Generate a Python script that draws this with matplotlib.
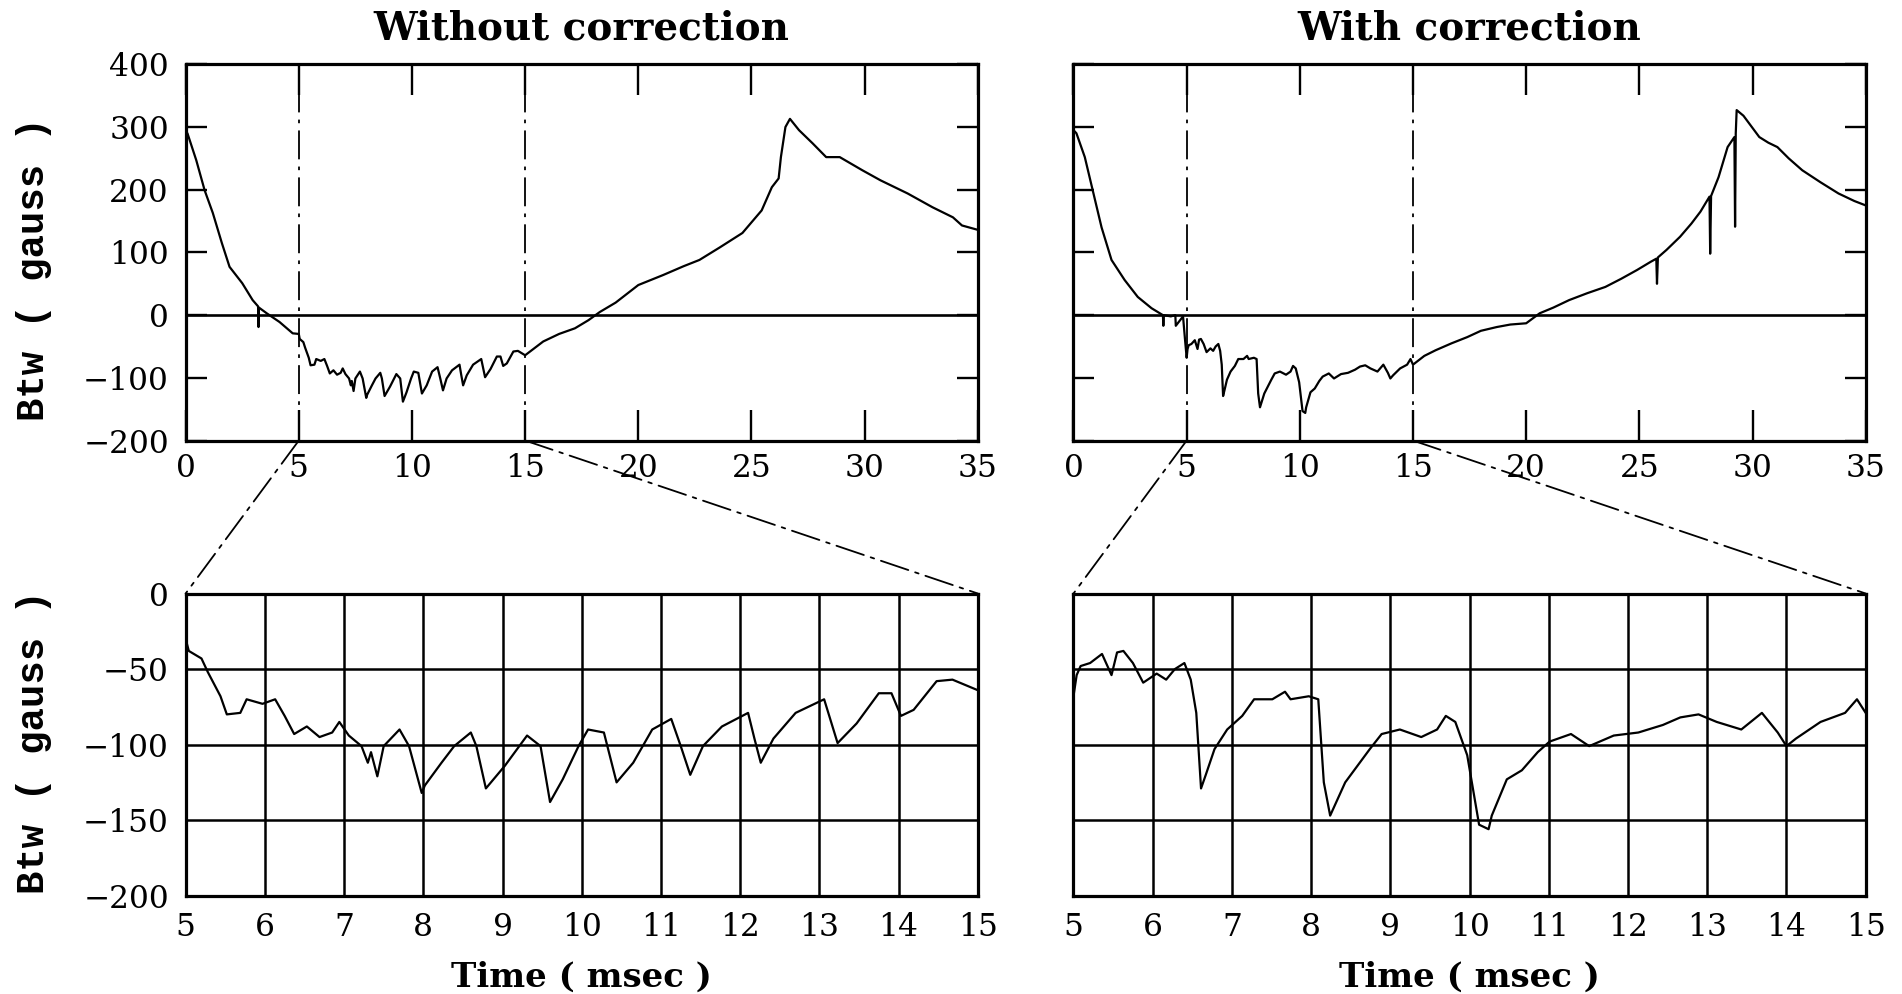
import numpy as np
import matplotlib
matplotlib.use('Agg')
from matplotlib import pyplot as plt
from matplotlib.patches import ConnectionPatch


# Without correction, full record outside the 5-15 msec window (msec, gauss)
t_wo_early = [0, 0.08, 0.47, 0.84, 1.2, 1.6, 1.94, 2.5, 2.96, 3.2, 3.22, 3.24, 3.58, 4.15, 4.73]
b_wo_early = [292, 290, 247, 199, 163, 115, 77, 51, 24, 14, -19, 12, 3, -11, -29]
t_wo_late = [15.8, 16.5, 17.2, 17.8, 18.3, 19.0, 20.0, 21.1, 22.0, 22.7, 23.6, 24.6, 25.45,
             25.9, 26.2, 26.3, 26.5, 26.7, 27.1, 27.7, 28.3, 28.9, 29.9, 30.7, 31.9, 33.0,
             33.9, 34.3, 35.0]
b_wo_late = [-42, -30, -21, -8, 5, 20, 48, 64, 78, 88, 108, 131, 167,
             204, 218, 252, 300, 313, 295, 274, 252, 252, 231, 215, 194, 172,
             156, 143, 136]

# Without correction, zoomed window 5-15 msec
t_wo_zoom = [5.0, 5.04, 5.2, 5.28, 5.44, 5.52, 5.69, 5.77, 5.97, 6.13, 6.25, 6.37, 6.53, 6.69,
             6.85, 6.94, 7.06, 7.22, 7.3, 7.34, 7.42, 7.5, 7.7, 7.82, 7.98, 8.02, 8.23, 8.39,
             8.6, 8.67, 8.79, 9.03, 9.31, 9.48, 9.6, 9.76, 9.96, 10.08, 10.28, 10.44, 10.65,
             10.89, 11.13, 11.25, 11.37, 11.53, 11.77, 12.1, 12.18, 12.26, 12.42, 12.7, 13.06,
             13.23, 13.47, 13.75, 13.91, 14.03, 14.19, 14.48, 14.68, 15.0]
b_wo_zoom = [-30, -38, -43, -52, -68, -80, -79, -70, -73, -70, -81, -93, -88, -95,
             -92, -85, -94, -101, -112, -105, -121, -101, -90, -101, -132, -127, -112, -101,
             -92, -101, -129, -114, -94, -101, -138, -123, -101, -90, -92, -125, -112,
             -90, -83, -101, -120, -101, -88, -79, -96, -112, -96, -79, -70,
             -99, -86, -66, -66, -81, -77, -58, -57, -64]

# With correction, full record outside the 5-15 msec window
t_w_early = [0, 0.13, 0.5, 0.85, 1.24, 1.68, 2.26, 2.84, 3.45, 3.95, 3.97, 3.99, 4.3,
             4.5, 4.52, 4.84, 4.93]
b_w_early = [295, 290, 252, 199, 140, 88, 56, 29, 11, 0, -17, 0, -2,
             0, -17, -2, -40]
t_w_late = [15.5, 16.0, 16.7, 17.4, 18.0, 18.7, 19.3, 20.0, 20.3, 20.6, 21.2, 21.9, 22.7,
            23.5, 24.2, 24.9, 25.5, 25.75, 25.78, 25.82, 26.2, 26.8, 27.3, 27.7, 28.1,
            28.13, 28.17, 28.5, 28.9, 29.2, 29.23, 29.26, 29.3, 29.6, 30.3, 30.7, 31.1,
            31.6, 32.2, 33.0, 33.8, 34.5, 35.0]
b_w_late = [-65, -56, -45, -35, -25, -19, -15, -13, -5, 3, 12, 24, 35,
            45, 58, 72, 85, 90, 50, 92, 104, 125, 146, 165, 189,
            98, 190, 220, 268, 284, 141, 290, 327, 318, 284, 275, 268,
            250, 231, 212, 194, 182, 175]

# With correction, zoomed window 5-15 msec
t_w_zoom = [5.0, 5.04, 5.09, 5.21, 5.36, 5.48, 5.55, 5.63, 5.75, 5.88, 6.05, 6.17, 6.28, 6.4,
            6.48, 6.55, 6.61, 6.67, 6.78, 6.94, 7.13, 7.28, 7.51, 7.67, 7.74, 7.97, 8.09,
            8.16, 8.24, 8.43, 8.74, 8.89, 9.12, 9.39, 9.59, 9.7, 9.82, 9.97, 10.12, 10.24,
            10.28, 10.47, 10.66, 10.86, 11.01, 11.28, 11.51, 11.82, 12.13, 12.44, 12.66,
            12.89, 13.12, 13.43, 13.69, 13.89, 14.0, 14.12, 14.43, 14.74, 14.89, 15.0]
b_w_zoom = [-68, -54, -48, -46, -40, -54, -39, -38, -46, -59, -53, -57, -50, -46,
            -57, -79, -129, -120, -103, -90, -81, -70, -70, -65, -70, -68, -70,
            -125, -147, -125, -103, -93, -90, -95, -90, -81, -85, -107, -153, -156,
            -147, -123, -117, -105, -98, -93, -101, -94, -92, -87, -82,
            -80, -85, -90, -79, -92, -101, -96, -85, -79, -70, -79]

titles = ['Without correction', 'With correction']
top_xticks = [0, 5, 10, 15, 20, 25, 30, 35]
top_yticks = [-200, -100, 0, 100, 200, 300, 400]
zoom_xticks = [5, 6, 7, 8, 9, 10, 11, 12, 13, 14, 15]
zoom_yticks = [-200, -150, -100, -50, 0]

serif = 'DejaVu Serif'
tick_size = 22.5

fig = plt.figure(figsize=(19.02, 9.94), dpi=100)

lefts = [0.0976, 0.5644]
w = 0.4165
ax_top = [fig.add_axes([l, 0.5568, w, 0.3785]) for l in lefts]
ax_bot = [fig.add_axes([l, 0.0989, w, 0.304]) for l in lefts]

full_t = [t_wo_early + t_wo_zoom + t_wo_late, t_w_early + t_w_zoom + t_w_late]
full_b = [b_wo_early + b_wo_zoom + b_wo_late, b_w_early + b_w_zoom + b_w_late]
zoom_t = [t_wo_zoom, t_w_zoom]
zoom_b = [b_wo_zoom, b_w_zoom]

dashdot = (0, (16, 4, 2, 4))

for i in range(2):
    ax = ax_top[i]
    ax.plot(full_t[i], full_b[i], color='black', lw=1.6)
    ax.axhline(0, color='black', lw=1.9)
    for xv in (5, 15):
        ax.axvline(xv, color='black', lw=1.3, ls=dashdot)
    ax.set_xlim(0, 35)
    ax.set_ylim(-200, 400)
    ax.set_xticks(top_xticks)
    ax.set_yticks(top_yticks)
    ax.tick_params(axis='x', direction='in', length=22, width=1.7, top=True, pad=9)
    ax.tick_params(axis='y', direction='in', length=15, width=1.7, right=True, pad=12)
    for s in ax.spines.values():
        s.set_linewidth(2.3)
    for lab in ax.get_xticklabels() + ax.get_yticklabels():
        lab.set_fontfamily(serif)
        lab.set_fontsize(tick_size)
    if i == 1:
        ax.set_yticklabels([])
    ax.text(0.5, 1.095, titles[i], transform=ax.transAxes, ha='center', va='center',
            family=serif, fontweight='bold', fontsize=28)

    bx = ax_bot[i]
    bx.plot(zoom_t[i], zoom_b[i], color='black', lw=1.6)
    bx.set_xlim(5, 15)
    bx.set_ylim(-200, 0)
    bx.set_xticks(zoom_xticks)
    bx.set_yticks(zoom_yticks)
    bx.grid(True, color='black', lw=1.8)
    bx.tick_params(length=0, pad=12)
    for s in bx.spines.values():
        s.set_linewidth(2.3)
    for lab in bx.get_xticklabels() + bx.get_yticklabels():
        lab.set_fontfamily(serif)
        lab.set_fontsize(tick_size)
    if i == 1:
        bx.set_yticklabels([])
    bx.text(0.5, -0.27, 'Time ( msec )', transform=bx.transAxes, ha='center', va='center',
            family=serif, fontweight='bold', fontsize=24.5)

    # zoom connectors from the upper window edges to the lower panel corners
    for xv in (5, 15):
        con = ConnectionPatch(xyA=(xv, -200), coordsA=ax.transData,
                              xyB=(xv, 0), coordsB=bx.transData,
                              color='black', lw=1.3, ls=dashdot)
        fig.add_artist(con)

for yc in (0.729, 0.253):
    fig.text(0.018, yc, 'Btw ( gauss )', rotation=90, ha='center', va='center',
             family='Liberation Mono', fontweight='bold', fontsize=28)

fig.savefig('out.png', dpi=100, facecolor='white')
